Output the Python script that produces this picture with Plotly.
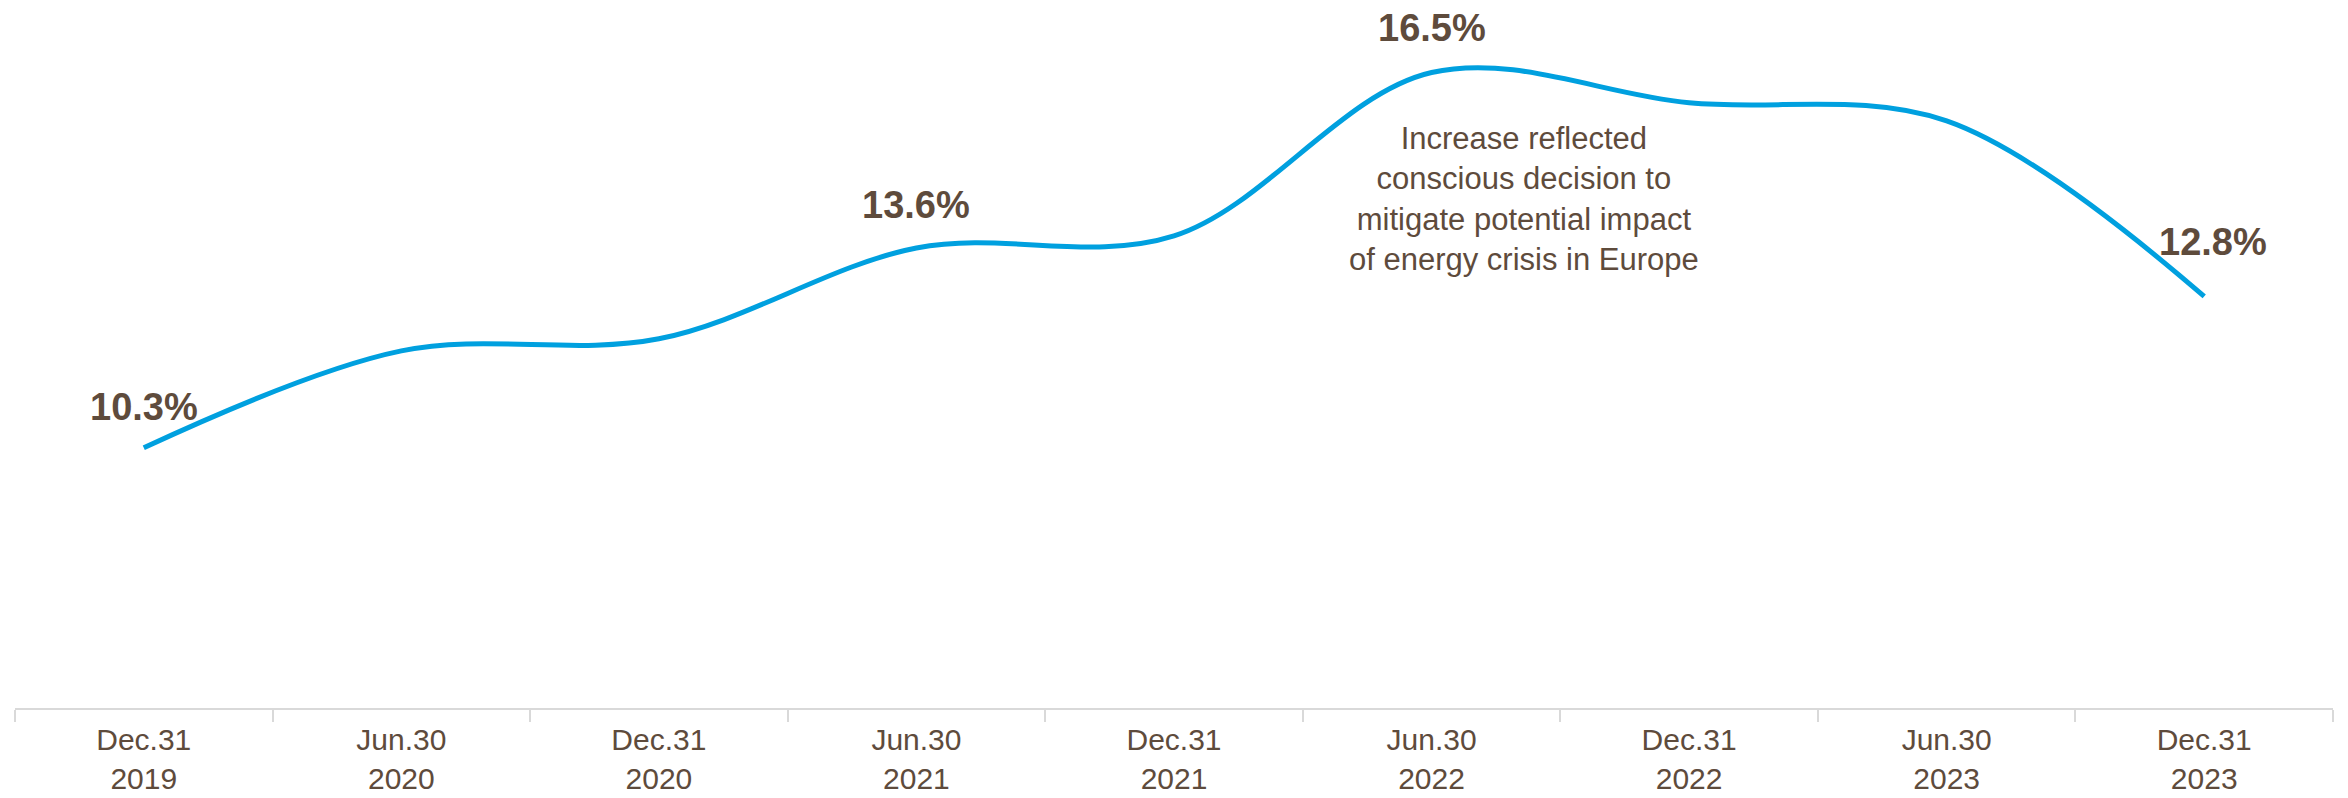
import plotly.graph_objects as go

# ---- data ----
categories = ["Dec.31 2019", "Jun.30 2020", "Dec.31 2020", "Jun.30 2021", "Dec.31 2021",
              "Jun.30 2022", "Dec.31 2022", "Jun.30 2023", "Dec.31 2023"]
tick_labels = ["Dec.31<br>2019", "Jun.30<br>2020", "Dec.31<br>2020", "Jun.30<br>2021", "Dec.31<br>2021",
               "Jun.30<br>2022", "Dec.31<br>2022", "Jun.30<br>2023", "Dec.31<br>2023"]
values = [10.3, 11.9, 12.1, 13.6, 13.8, 16.5, 16.0, 15.7, 12.8]
labelled_idx = [0, 3, 5, 8]
note_text = ("Increase reflected<br>conscious decision to<br>"
             "mitigate potential impact<br>of energy crisis in Europe")

# ---- style ----
BROWN = "#5E4B3C"
BLUE = "#00A0DF"
FONT = "Liberation Sans"
label_xshift = [0, 0, 0, 9]
label_yshift = [41, 43, 45, 54]

fig = go.Figure()
fig.add_trace(go.Scatter(
    x=categories, y=values, mode="lines",
    line=dict(color=BLUE, width=5, shape="spline", smoothing=1.0),
    hoverinfo="skip", showlegend=False,
))

for k, i in enumerate(labelled_idx):
    fig.add_annotation(
        x=categories[i], y=values[i], xref="x", yref="y",
        text=f"<b>{values[i]:.1f}%</b>", showarrow=False,
        xanchor="center", yanchor="middle",
        xshift=label_xshift[k], yshift=label_yshift[k],
        font=dict(family=FONT, size=38, color=BROWN),
    )

fig.add_annotation(
    x=0.651, y=0.731, xref="paper", yref="paper",
    text=note_text, showarrow=False, align="center",
    xanchor="center", yanchor="middle",
    font=dict(family=FONT, size=31, color=BROWN),
)

fig.update_layout(
    width=2348, height=798,
    margin=dict(l=15, r=15, t=12, b=90),
    paper_bgcolor="white", plot_bgcolor="white",
    xaxis=dict(
        type="category", categoryorder="array", categoryarray=categories,
        tickmode="array", tickvals=categories, ticktext=tick_labels,
        range=[-0.5, 8.5], tickson="boundaries", automargin=False,
        ticks="outside", ticklen=12, tickwidth=2, tickcolor="#D9D9D9",
        showline=True, linecolor="#D9D9D9", linewidth=2,
        showgrid=False, zeroline=False, ticklabelstandoff=4,
        tickfont=dict(family=FONT, size=30, color=BROWN),
    ),
    yaxis=dict(range=[6, 17.5], visible=False, showgrid=False, zeroline=False,
               automargin=False),
)

fig.write_html("out.html")
